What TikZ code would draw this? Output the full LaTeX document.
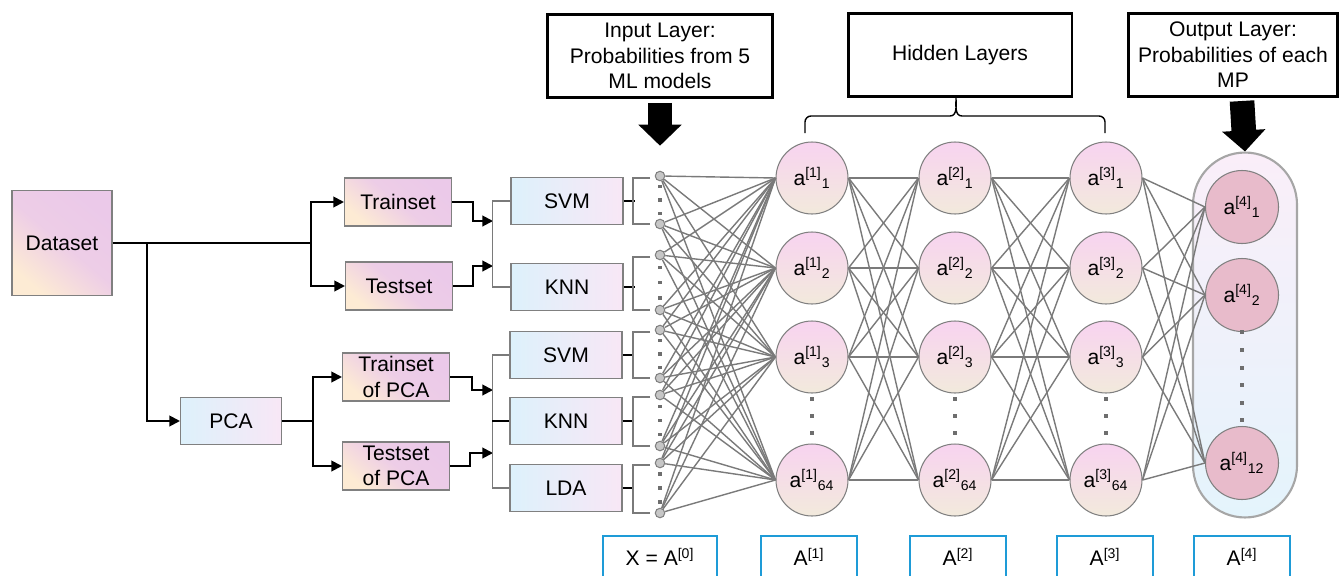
\documentclass[tikz,border=0pt]{standalone}
\usepackage{fontspec}
\setmainfont{Liberation Sans}
\usetikzlibrary{arrows.meta}

\definecolor{setpink}{HTML}{EBC9E9}
\definecolor{setcream}{HTML}{FDEBD4}
\definecolor{mdlblue}{HTML}{DDF1FB}
\definecolor{mdlpink}{HTML}{F8E7F6}
\definecolor{unitpink}{HTML}{F8D3F0}
\definecolor{unitcream}{HTML}{F2EADC}
\definecolor{outunit}{HTML}{E8BBCB}
\definecolor{wiregray}{HTML}{7A7A7A}
\definecolor{dotgray}{HTML}{6E6E6E}
\definecolor{tagblue}{HTML}{1E9BD7}

\tikzset{
  setbox/.style={draw=gray, line width=0.6pt, top color=setpink, bottom color=setcream,
    middle color=setpink!88!setcream, shading angle=-40,
    minimum width=2.14cm, minimum height=0.96cm, inner sep=0pt},
  mdlbox/.style={draw=gray, line width=0.6pt, left color=mdlblue, right color=mdlpink,
    minimum width=2.24cm, minimum height=0.95cm, inner sep=0pt},
  flow/.style={black, line width=1.1pt},
  Arr/.tip={Triangle[length=6pt,width=6pt]},
  tie/.style={wiregray, line width=0.8pt},
  inunit/.style={circle, draw=gray, fill=gray!45, line width=0.6pt, minimum size=0.19cm, inner sep=0pt},
  unit/.style={circle, draw=gray, line width=0.6pt, top color=unitpink, bottom color=unitcream,
    minimum size=1.44cm, inner sep=0pt},
  outunit/.style={circle, draw=gray, line width=0.6pt, fill=outunit, minimum size=1.46cm, inner sep=0pt},
  capsule/.style={draw=gray!70, line width=1.2pt, top color=mdlpink!70!white, bottom color=mdlblue!80!white,
    rounded corners=1.04cm, minimum width=2.08cm, minimum height=7.3cm},
  wire/.style={wiregray, line width=0.8pt},
  headbox/.style={draw=black, line width=1.7pt, fill=white, align=center, minimum height=1.66cm},
  bigarrow/.style={line width=14pt, -{Triangle[length=12pt,width=24pt]}},
  brace/.style={black, line width=0.8pt},
  tagline/.style={tagblue, line width=1.2pt},
}

\begin{document}
\begin{tikzpicture}[x=0.02cm, y=-0.02cm, font=\fontsize{12}{14.5}\selectfont]
  \useasboundingbox (0,0) rectangle (1341,575);
  \clip (0,0) rectangle (1341,575);

  % data sets
  \node[setbox, minimum width=2cm, minimum height=2.1cm] (dataset) at (62,243) {Dataset};
  \node[mdlbox, minimum width=2.02cm] (pca) at (231,421) {PCA};
  \node[setbox] (train) at (398,202) {Trainset};
  \node[setbox] (test) at (399,286) {Testset};
  \node[setbox, align=center] (trainpca) at (396,377) {Trainset\\of PCA};
  \node[setbox, align=center] (testpca) at (396,466) {Testset\\of PCA};

  \coordinate (fork) at (147,243);
  \coordinate (rawsplit) at (311,243);
  \coordinate (pcasplit) at (313,421);
  \draw[flow] (dataset.east) -- (rawsplit);
  \draw[flow, -Arr] (rawsplit) |- (train.west);
  \draw[flow, -Arr] (rawsplit) |- (test.west);
  \draw[flow, -Arr] (fork) |- (pca.west);
  \draw[flow] (pca.east) -- (pcasplit);
  \draw[flow, -Arr] (pcasplit) |- (trainpca.west);
  \draw[flow, -Arr] (pcasplit) |- (testpca.west);

  % classifiers
  \node[mdlbox] (svma) at (567,201) {SVM};
  \node[mdlbox] (knna) at (567,287) {KNN};
  \node[mdlbox] (svmb) at (566,355) {SVM};
  \node[mdlbox] (knnb) at (566,421) {KNN};
  \node[mdlbox] (lda) at (566,488) {LDA};

  \coordinate (joina) at (493,221);
  \coordinate (joinb) at (493,266);
  \coordinate (joinc) at (493,390);
  \coordinate (joind) at (493,453);
  \draw[flow, -Arr] (train.east) -- ++(21,0) |- (joina);
  \draw[flow, -Arr] (test.east) -- ++(20,0) |- (joinb);
  \draw[flow, -Arr] (trainpca.east) -- ++(22,0) |- (joinc);
  \draw[flow, -Arr] (testpca.east) -- ++(20,0) |- (joind);
  \draw[tie] (svma.west) -- ++(-18,0) |- (knna.west);
  \draw[tie] (svmb.west) -- ++(-17,0) |- (lda.west);
  \draw[flow] (knnb.west) -- ++(-17,0);

  % input layer
  \foreach \m/\ya/\yb [count=\i] in {svma/176/224, knna/255/310, svmb/330/378, knnb/395/446, lda/463/513} {
    \node[inunit] (x\i-1) at (660,\ya) {};
    \node[inunit] (x\i-2) at (660,\yb) {};
    \draw[flow] (\m.east) -- ++(11,0);
    \draw[tie] (650,\ya+2) -- (633,\ya+2) -- (633,\yb) -- (650,\yb);
    \foreach \f in {0.22,0.5,0.78}
      \fill[dotgray] (658.4,{\ya+\f*(\yb-\ya)-1.6}) rectangle ++(3.2,3.2);
  }

  % hidden layers
  \foreach \l/\x in {1/812, 2/955, 3/1106} {
    \foreach \r/\y/\s in {1/178/1, 2/268/2, 3/357/3, 4/480/64}
      \node[unit] (h\l-\r) at (\x,\y) {a\textsuperscript{[\l]}\textsubscript{\s}};
    \foreach \y in {399,416,433}
      \fill[dotgray] (\x-1.6,\y-1.6) rectangle ++(3.2,3.2);
  }

  % output layer
  \node[capsule] (outgroup) at (1245,335) {};
  \foreach \r/\y/\s in {1/207/1, 2/295/2, 3/463/12}
    \node[outunit] (o\r) at (1242,\y) {a\textsuperscript{[4]}\textsubscript{\s}};
  \foreach \y in {332,350,368,385,403,420}
    \fill[dotgray] (1240.4,\y-1.6) rectangle ++(3.2,3.2);

  % weights
  \foreach \i in {1,...,5}
    \foreach \s in {1,2}
      \foreach \k in {1,...,4}
        \draw[wire] (x\i-\s) -- (h1-\k.west);
  \foreach \l/\n in {1/2, 2/3}
    \foreach \r in {1,...,4}
      \foreach \k in {1,...,4}
        \draw[wire] (h\l-\r.east) -- (h\n-\k.west);
  \foreach \r in {1,...,4}
    \foreach \k in {1,2,3}
      \draw[wire] (h3-\r.east) -- (o\k.west);

  % headings
  \node[headbox, minimum width=4.5cm] (inhead) at (660,56) {Input Layer:\\Probabilities from 5\\ML models};
  \node[headbox, minimum width=4.48cm] (hidhead) at (960,55) {Hidden Layers};
  \node[headbox, minimum width=4.18cm] (outhead) at (1233,55) {Output Layer:\\Probabilities of each\\MP};
  \coordinate (outtop) at (1242,101);
  \draw[bigarrow] ([yshift=-0.08cm]inhead.south) -- ([yshift=0.5cm]x1-1.north);
  \draw[bigarrow] (outtop) -- (outgroup.north);

  \coordinate (bl) at (805,133);
  \coordinate (br) at (1105,133);
  \coordinate (bt) at (956,98);
  \draw[brace] (bl) -- (805,122) to[out=90,in=180] (811,116) -- (950,116)
    to[out=0,in=-90] (bt) to[out=-90,in=180] (962,116) -- (1099,116)
    to[out=0,in=90] (1105,122) -- (br);

  % activations
  \foreach \t/\x/\w/\lab in {t0/660/2.28/{X = A\textsuperscript{[0]}}, t1/809/1.92/{A\textsuperscript{[1]}},
      t2/958/1.92/{A\textsuperscript{[2]}}, t3/1105/1.92/{A\textsuperscript{[3]}}, t4/1242/1.9/{A\textsuperscript{[4]}}} {
    \node[minimum width=\w cm, minimum height=0.84cm, inner sep=0pt] (\t) at (\x,557) {\lab};
    \draw[tagline] ([yshift=-0.3cm]\t.south west) |- (\t.north east) -- ([yshift=-0.3cm]\t.south east);
  }
\end{tikzpicture}
\end{document}
